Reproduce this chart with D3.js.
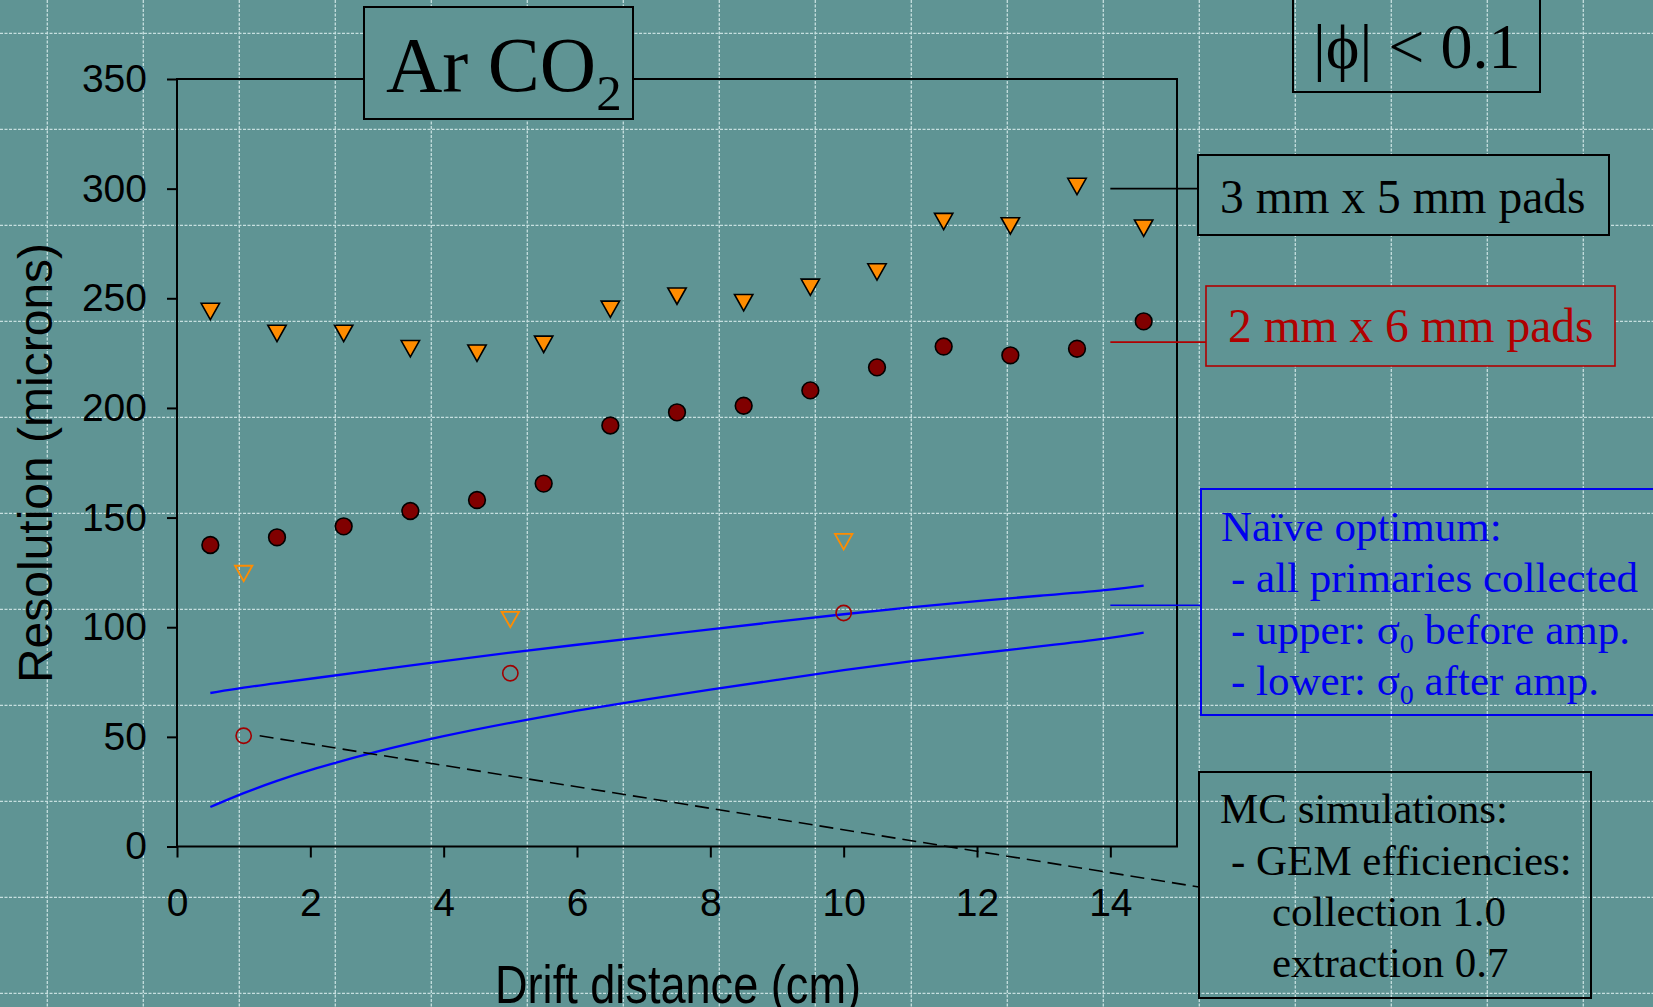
<!DOCTYPE html>
<html>
<head>
<meta charset="utf-8">
<script src="https://cdnjs.cloudflare.com/ajax/libs/d3/7.8.5/d3.min.js"></script>
<style>
  html, body { margin: 0; padding: 0; background: #5f9494; overflow: hidden; }
</style>
</head>
<body>
<div id="chart-area"></div>
<script>
// values
let drift = [0.5, 1.5, 2.5, 3.5, 4.5, 5.5, 6.5, 7.5, 8.5, 9.5, 10.5, 11.5, 12.5, 13.5, 14.5];
let pads3x5 = [244, 234, 234, 227, 225, 229, 245, 251, 248, 255, 262, 285, 283, 301, 282];
let pads2x6 = [137.5, 141, 146, 153, 158, 165.5, 192, 198, 201, 208, 218.5, 228, 224, 227, 239.5];

let mcDrift = [1, 5, 10];
let mc3x5 = [124.5, 103.5, 139];
let mc2x6 = [50.5, 79, 106.5];

let naiveDrift = [0.5, 1, 1.5, 2, 3, 4, 5, 6, 7, 8, 9, 10, 11, 12, 13, 14, 14.5];
let naiveUpper = [70, 72.5, 74.5, 76.5, 80.5, 84.5, 88.5, 92, 95.5, 99, 102.5, 106, 109, 112, 114.5, 117, 119];
let naiveLower = [18, 24.5, 30, 35, 43.5, 50.5, 56.5, 62, 67, 71.5, 76, 80.5, 84.5, 88, 91.5, 95, 97.5];

let xTicks = [0, 2, 4, 6, 8, 10, 12, 14];
let yTicks = [0, 50, 100, 150, 200, 250, 300, 350];

let bg = "#5f9494";
let sans = "'Liberation Sans', Arial, sans-serif";
let serif = "'Liberation Serif', 'Times New Roman', serif";

let svg = d3.select("#chart-area").append("svg")
	.attr("width", 1653)
	.attr("height", 1007);

svg.append("rect").attr("width", 1653).attr("height", 1007).attr("fill", bg);

// slide background: dashed grid
let grid = svg.append("g")
	.attr("stroke", "#c6dfdf")
	.attr("stroke-width", 1.3)
	.attr("stroke-dasharray", "3,1.5");
d3.range(47.3, 1653, 96).forEach((gx) => {
	grid.append("line").attr("x1", gx).attr("x2", gx).attr("y1", 0).attr("y2", 1007);
});
d3.range(33.3, 1007, 96).forEach((gy) => {
	grid.append("line").attr("y1", gy).attr("y2", gy).attr("x1", 0).attr("x2", 1653);
});

let x = d3.scaleLinear().domain([0, 15]).range([177, 1177]);
let y = d3.scaleLinear().domain([0, 350]).range([846.5, 79]);

// plot frame
svg.append("rect")
	.attr("x", x(0)).attr("y", y(350))
	.attr("width", x(15) - x(0)).attr("height", y(0) - y(350))
	.attr("fill", "none").attr("stroke", "#000").attr("stroke-width", 2);

let xAxis = svg.append("g")
	.attr("transform", `translate(0,${y(0)})`)
	.call(d3.axisBottom(x).tickValues(xTicks).tickSize(11).tickSizeOuter(0).tickPadding(31));
let yAxis = svg.append("g")
	.attr("transform", `translate(${x(0)},0)`)
	.call(d3.axisLeft(y).tickValues(yTicks).tickSize(10).tickSizeOuter(0).tickPadding(20));

[xAxis, yAxis].forEach((a) => {
	a.select(".domain").remove();
	a.selectAll("line").attr("stroke", "#000").attr("stroke-width", 2);
	a.selectAll("text").attr("fill", "#000").style("font-family", sans).style("font-size", "39px");
});

svg.append("text")
	.attr("transform", "translate(52,463) rotate(-90)")
	.attr("text-anchor", "middle")
	.style("font-family", sans).style("font-size", "48px")
	.text("Resolution (microns)");

svg.append("text")
	.attr("x", 678).attr("y", 1003)
	.attr("text-anchor", "middle")
	.attr("textLength", 366).attr("lengthAdjust", "spacingAndGlyphs")
	.style("font-family", sans).style("font-size", "54px")
	.text("Drift distance (cm)");

// naive optimum curves
let line = d3.line().x((d) => x(d[0])).y((d) => y(d[1])).curve(d3.curveBasis);
[naiveUpper, naiveLower].forEach((vals) => {
	svg.append("path")
		.datum(naiveDrift.map((d, i) => [d, vals[i]]))
		.attr("d", line)
		.attr("fill", "none").attr("stroke", "#0000ff").attr("stroke-width", 2.3);
});

// downward triangle marker
let triDown = {
	draw(ctx, size) {
		let w = Math.sqrt(size * 2 * 18 / 16), h = w * 16 / 18;
		ctx.moveTo(-w / 2, -h / 2);
		ctx.lineTo(w / 2, -h / 2);
		ctx.lineTo(0, h / 2);
		ctx.closePath();
	}
};

svg.selectAll(".tri").data(drift.map((d, i) => [d, pads3x5[i]]))
	.enter().append("path")
	.attr("transform", (d) => `translate(${x(d[0])},${y(d[1])})`)
	.attr("d", d3.symbol(triDown, 150))
	.attr("fill", "#ff8c00").attr("stroke", "#000").attr("stroke-width", 1.6);

svg.selectAll(".dot").data(drift.map((d, i) => [d, pads2x6[i]]))
	.enter().append("path")
	.attr("transform", (d) => `translate(${x(d[0])},${y(d[1])})`)
	.attr("d", d3.symbol(d3.symbolCircle, Math.PI * 70))
	.attr("fill", "#800000").attr("stroke", "#000").attr("stroke-width", 1.6);

svg.selectAll(".mctri").data(mcDrift.map((d, i) => [d, mc3x5[i]]))
	.enter().append("path")
	.attr("transform", (d) => `translate(${x(d[0])},${y(d[1])})`)
	.attr("d", d3.symbol(triDown, 135))
	.attr("fill", "none").attr("stroke", "#ff8c00").attr("stroke-width", 1.8);

svg.selectAll(".mcdot").data(mcDrift.map((d, i) => [d, mc2x6[i]]))
	.enter().append("path")
	.attr("transform", (d) => `translate(${x(d[0])},${y(d[1])})`)
	.attr("d", d3.symbol(d3.symbolCircle, Math.PI * 58))
	.attr("fill", "none").attr("stroke", "#a00000").attr("stroke-width", 1.6);

// annotation boxes
function box(x0, y0, x1, y1, color, filled, sw) {
	svg.append("rect")
		.attr("x", x0).attr("y", y0).attr("width", x1 - x0).attr("height", y1 - y0)
		.attr("fill", filled ? bg : "none")
		.attr("stroke", color).attr("stroke-width", sw);
}
function connector(x0, y0, x1, color) {
	svg.append("line")
		.attr("x1", x0).attr("y1", y0).attr("x2", x1).attr("y2", y0)
		.attr("stroke", color).attr("stroke-width", 1.6);
}

// MC dashed pointer from the first MC point to its box
svg.append("line")
	.attr("x1", x(mcDrift[0]) + 16).attr("y1", y(mc2x6[0]))
	.attr("x2", 1199).attr("y2", 887)
	.attr("stroke", "#000").attr("stroke-width", 1.6).attr("stroke-dasharray", "14,7");

connector(x(14), y(300), 1198, "#000");
connector(x(14), y(230), 1206, "#b00000");
connector(x(14), y(110), 1201, "#0000ee");

box(364, 7, 633, 119, "#000", true, 2);
let ar = svg.append("text").attr("x", 386).attr("y", 91)
	.style("font-family", serif).style("font-size", "78px");
ar.append("tspan").text("Ar CO");
ar.append("tspan").attr("dy", 19).style("font-size", "51px").text("2");

box(1293, -5, 1540, 92, "#000", false, 2);
svg.append("text").attr("x", 1313).attr("y", 68)
	.style("font-family", serif).style("font-size", "64px")
	.text("|\u03d5| < 0.1");

box(1198, 155, 1609, 235, "#000", true, 2);
svg.append("text").attr("x", 1220).attr("y", 213)
	.style("font-family", serif).style("font-size", "47.5px")
	.text("3 mm x 5 mm pads");

box(1206, 286, 1615, 366, "#b00000", true, 1.6);
svg.append("text").attr("x", 1228).attr("y", 342)
	.attr("fill", "#b00000")
	.style("font-family", serif).style("font-size", "47.5px")
	.text("2 mm x 6 mm pads");

box(1201, 489, 1680, 715, "#0000ee", false, 2);
let blueLines = [
	{x: 1221, parts: [["Naïve optimum:"]]},
	{x: 1231, parts: [["- all primaries collected"]]},
	{x: 1231, parts: [["- upper: σ"], ["0", true], [" before amp."]]},
	{x: 1231, parts: [["- lower: σ"], ["0", true], [" after amp."]]}
];
blueLines.forEach((l, i) => {
	let t = svg.append("text").attr("x", l.x).attr("y", 540.5 + i * 51.5)
		.attr("fill", "#0000ee")
		.style("font-family", serif).style("font-size", "43px");
	l.parts.forEach((p, j) => {
		let s = t.append("tspan").text(p[0]);
		if (p[1]) s.attr("dy", 9).style("font-size", "28px");
		else if (j > 0) s.attr("dy", -9);
	});
});

box(1199, 772, 1591, 998, "#000", false, 2);
let mcLines = [
	{x: 1220, t: "MC simulations:"},
	{x: 1231, t: "- GEM efficiencies:"},
	{x: 1272, t: "collection 1.0"},
	{x: 1272, t: "extraction 0.7"}
];
mcLines.forEach((l, i) => {
	svg.append("text").attr("x", l.x).attr("y", 823.3 + i * 51.2)
		.style("font-family", serif).style("font-size", "43px")
		.text(l.t);
});
</script>
</body>
</html>
